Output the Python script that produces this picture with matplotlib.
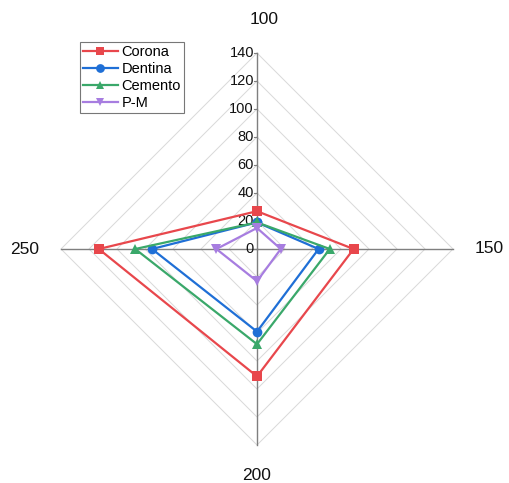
import numpy as np
import matplotlib.pyplot as plt
import matplotlib as mpl

mpl.rcParams['font.family'] = ['Liberation Sans', 'DejaVu Sans']

# data
categories = ['100', '150', '200', '250']
corona = [27, 69, 91, 113]
dentina = [19, 44, 59, 75]
cemento = [19, 52, 68, 87]
pm = [15, 17, 23, 29]
series = [('Corona', corona, '#E8474C', 's'),
          ('Dentina', dentina, '#1F6FD6', 'o'),
          ('Cemento', cemento, '#3AA86A', '^'),
          ('P-M', pm, '#A77DE0', 'v')]
r_ticks = [0, 20, 40, 60, 80, 100, 120, 140]
r_max = 140

# angles: top, right, bottom, left
angles = np.pi / 2 - np.arange(len(categories)) * np.pi / 2


def to_xy(vals):
    vals = np.asarray(vals, dtype=float)
    x = vals * np.cos(angles)
    y = vals * np.sin(angles)
    return np.append(x, x[0]), np.append(y, y[0])


fig = plt.figure(figsize=(5.09, 4.83), dpi=100)
ax = fig.add_axes([0, 0, 1, 1])
scale = 1.4  # px per unit
cx, cy = 257, 249
ax.set_xlim(-cx / scale, (509 - cx) / scale)
ax.set_ylim(-(483 - cy) / scale, cy / scale)
ax.axis('off')

# polygon grid
for r in r_ticks[1:]:
    gx, gy = to_xy([r] * len(categories))
    ax.plot(gx, gy, color='#d9d9d9', lw=0.7, zorder=1)

# spokes
for a in angles:
    ax.plot([0, r_max * np.cos(a)], [0, r_max * np.sin(a)],
            color='#7f7f7f', lw=1.0, zorder=2)

# radial tick labels on top spoke
for r in r_ticks:
    ax.plot([-1.8, 0], [r, r], color='#7f7f7f', lw=0.8, zorder=2)
    ax.text(-2.2, r, str(r), ha='right', va='center', fontsize=10.5,
            color='#111111', zorder=3)

# category labels
lab_r = [164, 166, 162, 166]
for cat, a, lr in zip(categories, angles, lab_r):
    ax.text(lr * np.cos(a) + (5 if cat == '100' else 0), lr * np.sin(a), cat,
            ha='center', va='center', fontsize=12.5, color='#111111')

for name, vals, col, mk in series:
    x, y = to_xy(vals)
    ax.plot(x, y, color=col, lw=1.6, marker=mk, markersize=7,
            markeredgewidth=0, label=name, zorder=4)

leg = ax.legend(loc='upper left', bbox_to_anchor=(80 / 509, 1 - 42 / 483),
                fontsize=10.5, frameon=True, fancybox=False, borderpad=0.2,
                labelspacing=0.2, handlelength=2.4, handletextpad=0.25,
                borderaxespad=0, markerscale=0.9)
leg.get_frame().set_edgecolor('#555555')
leg.get_frame().set_linewidth(0.8)

plt.savefig('out.png', dpi=100)
